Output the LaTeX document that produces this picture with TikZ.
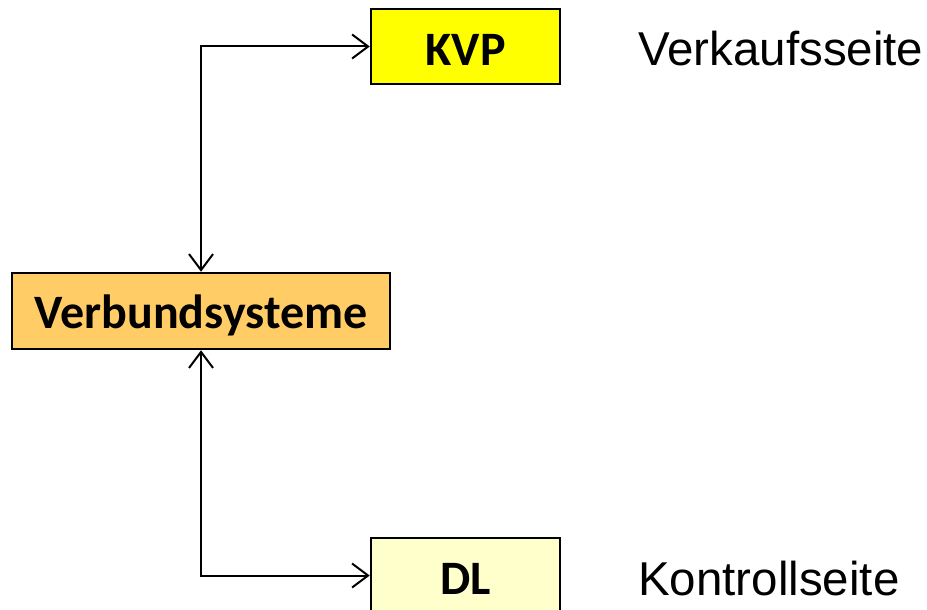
\documentclass[tikz,border=0pt]{standalone}
\usepackage{fontspec}
\setmainfont{Liberation Sans}
\newfontfamily\boxfont{Carlito}
\usetikzlibrary{arrows.meta}
\definecolor{kvpyellow}{HTML}{FFFF00}
\definecolor{verborange}{HTML}{FFCC66}
\definecolor{dlyellow}{HTML}{FFFFCC}
\tikzset{
  box/.style={draw=black, line width=2.5pt, inner sep=0pt, minimum height=75pt,
    text height=38pt, text depth=0pt,
    font=\boxfont\bfseries\fontsize{48}{52}\selectfont, text=black},
  side/.style={inner sep=0pt, anchor=base west, font=\fontsize{47.5}{52}\selectfont},
  conn/.style={line width=2pt, {Straight Barb[length=16pt,width=24pt]}-{Straight Barb[length=16pt,width=24pt]}},
}
\begin{document}
\begin{tikzpicture}[x=1pt,y=-1pt]
\useasboundingbox (0,0) rectangle (927,610);
\node[box, fill=kvpyellow, minimum width=189pt] (kvp) at (465.5,46.5) {KVP};
\node[box, fill=verborange, minimum width=378pt, minimum height=76pt, text height=34pt] (verb) at (201,311) {Verbundsysteme};
\node[box, fill=dlyellow, minimum width=189pt] (dl) at (465.5,575.5) {DL};
\node[side] (vs) at (638,66) {Verkaufsseite};
\node[side] (ks) at (638,595) {Kontrollseite};
\draw[conn] (kvp.west) -| (verb.north);
\draw[conn] (verb.south) |- (dl.west);
\end{tikzpicture}
\end{document}
